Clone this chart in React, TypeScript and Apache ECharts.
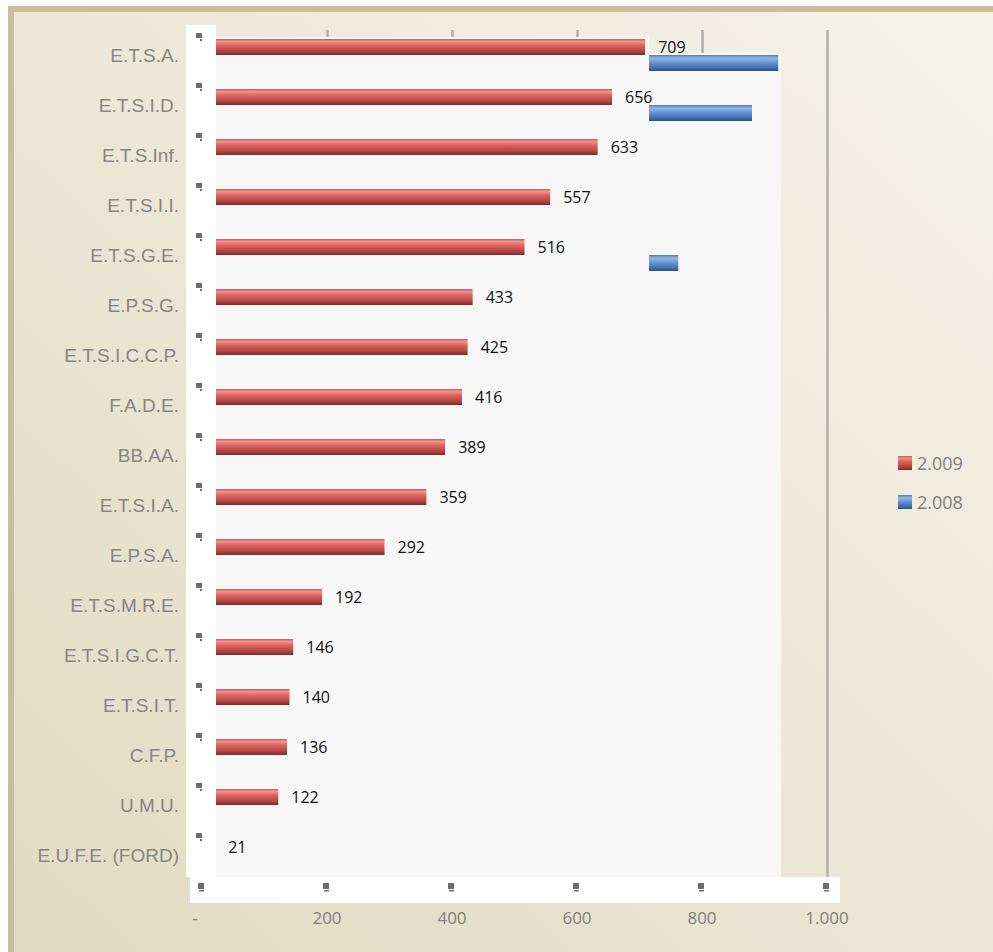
import React, { useEffect, useRef } from "react";
import * as echarts from "echarts";

const categories = [
  "E.T.S.A.", "E.T.S.I.D.", "E.T.S.Inf.", "E.T.S.I.I.", "E.T.S.G.E.", "E.P.S.G.",
  "E.T.S.I.C.C.P.", "F.A.D.E.", "BB.AA.", "E.T.S.I.A.", "E.P.S.A.", "E.T.S.M.R.E.",
  "E.T.S.I.G.C.T.", "E.T.S.I.T.", "C.F.P.", "U.M.U.", "E.U.F.E. (FORD)",
];
const values2009 = [709, 656, 633, 557, 516, 433, 425, 416, 389, 359, 292, 192, 146, 140, 136, 122, 21];
const values2008 = [922, 880, null, null, 762, null, null, null, null, null, null, null, null, null, null, null, null];
const xTicks = [0, 200, 400, 600, 800, 1000];
const seriesNames = ["2.009", "2.008"];

const W = 993;
const H = 952;

const redGrad = new echarts.graphic.LinearGradient(0, 0, 0, 1, [
  { offset: 0, color: "#c65a55" },
  { offset: 0.15, color: "#f2928c" },
  { offset: 0.4, color: "#dc645e" },
  { offset: 0.75, color: "#b24642" },
  { offset: 1, color: "#7a2c2a" },
]);
const blueGrad = new echarts.graphic.LinearGradient(0, 0, 0, 1, [
  { offset: 0, color: "#4d7cbc" },
  { offset: 0.2, color: "#92b6e4" },
  { offset: 0.5, color: "#6092d4" },
  { offset: 0.8, color: "#456fab" },
  { offset: 1, color: "#2e5085" },
]);

function fmtNum(v: number) {
  if (v === 0) return "-";
  return String(v).replace(/\B(?=(\d{3})+(?!\d))/g, ".");
}

export default function App() {
  const ref = useRef<HTMLDivElement>(null);
  useEffect(() => {
    if (!ref.current) return;
    const chart = echarts.init(ref.current, undefined, { renderer: "svg" });
    const gridLeft = 202;
    const gridRight = W - 827;
    const gridTop = 30;
    const gridBottom = H - 880;

    const bgGraphics: any[] = [
      { type: "rect", z: -10, silent: true, shape: { x: 8, y: 6, width: W - 8, height: H - 6 }, style: { fill: "#c8bf98" } },
      {
        type: "rect", z: -9, silent: true,
        shape: { x: 14, y: 12, width: W - 14, height: H - 12 },
        style: {
          fill: new echarts.graphic.LinearGradient(0, 1, 1, 0, [
            { offset: 0, color: "#e2dbc1" },
            { offset: 1, color: "#f5f2ea" },
          ]),
        },
      },
      // right plot panel
      { type: "rect", z: 1, silent: true, shape: { x: 649, y: 53, width: 132, height: 824 }, style: { fill: "#f7f7f7" } },
      // left plot panel
      { type: "rect", z: 3, silent: true, shape: { x: 215, y: 37, width: 434, height: 840 }, style: { fill: "#f7f7f7" } },
      // white strips
      { type: "rect", z: 5, silent: true, shape: { x: 186, y: 25, width: 30, height: 852 }, style: { fill: "#ffffff" } },
      { type: "rect", z: 5, silent: true, shape: { x: 190, y: 877, width: 650, height: 26 }, style: { fill: "#ffffff" } },
    ];

    const option: any = {
      animation: false,
      backgroundColor: "transparent",
      graphic: bgGraphics,
      legend: {
        orient: "vertical",
        left: 893,
        top: 449,
        itemWidth: 14,
        itemHeight: 14,
        itemGap: 21,
        icon: "rect",
        data: seriesNames,
        textStyle: { color: "#808080", fontSize: 18, fontFamily: "Open Sans" },
      },
      grid: { left: gridLeft, right: gridRight, top: gridTop, bottom: gridBottom, containLabel: false },
      xAxis: {
        type: "value",
        min: 0,
        max: 1000,
        interval: 200,
        z: 0,
        axisLine: { show: false },
        axisTick: { show: false },
        splitLine: { show: true, lineStyle: { color: "#aeaeae", width: 2.5 } },
        axisLabel: {
          margin: 29,
          color: "#808080",
          fontSize: 17,
          fontFamily: "Open Sans",
          formatter: (v: number) => (v === 0 ? "{d|-}" : fmtNum(v)),
          rich: { d: { padding: [0, 14, 0, 0], color: "#808080", fontSize: 17, fontFamily: "Open Sans" } },
        },
      },
      yAxis: {
        type: "category",
        data: categories,
        inverse: true,
        axisLine: { show: false },
        axisTick: { show: false },
        splitLine: { show: false },
        axisLabel: {
          margin: 23,
          color: "#858585",
          fontSize: 19,
          fontFamily: "Liberation Sans",
          padding: [7, 0, 0, 0],
        },
      },
      series: [
        {
          name: seriesNames[0],
          type: "bar",
          z: 4,
          data: values2009,
          barWidth: 16,
          barGap: "0%",
          itemStyle: { color: redGrad },
          label: {
            show: true,
            position: "right",
            distance: 13,
            color: "#111",
            fontSize: 16,
            fontFamily: "Open Sans",
            formatter: (p: any) => fmtNum(p.value),
          },
        },
        {
          name: seriesNames[1],
          type: "bar",
          z: 2,
          data: values2008,
          barWidth: 16,
          barGap: "0%",
          itemStyle: { color: blueGrad },
        },
      ],
    };
    chart.setOption(option);

    // small placeholder glyphs on the white strips
    const glyphs: any[] = [];
    categories.forEach((c) => {
      const py = chart.convertToPixel({ yAxisIndex: 0 }, c) as number;
      glyphs.push({ type: "rect", z: 6, silent: true, shape: { x: 196, y: py - 22, width: 6, height: 5 }, style: { fill: "#6e6e6e" } });
      glyphs.push({ type: "rect", z: 6, silent: true, shape: { x: 200, y: py - 16, width: 2, height: 2 }, style: { fill: "#6e6e6e" } });
    });
    const lastY = chart.convertToPixel({ yAxisIndex: 0 }, categories[categories.length - 1]) as number;
    xTicks.forEach((t) => {
      const px = chart.convertToPixel({ xAxisIndex: 0 }, t) as number;
      glyphs.push({ type: "rect", z: 6, silent: true, shape: { x: px - 4, y: lastY + 28, width: 6, height: 6 }, style: { fill: "#6e6e6e" } });
      glyphs.push({ type: "rect", z: 6, silent: true, shape: { x: px - 3, y: lastY + 35, width: 5, height: 1.5 }, style: { fill: "#6e6e6e" } });
    });
    chart.setOption({ graphic: [...bgGraphics, ...glyphs] });

    return () => chart.dispose();
  }, []);
  return (
    <div style={{ position: "absolute", left: 0, top: 0, width: W, height: H, background: "#ffffff" }}>
      <div ref={ref} style={{ width: W, height: H }} />
    </div>
  );
}
